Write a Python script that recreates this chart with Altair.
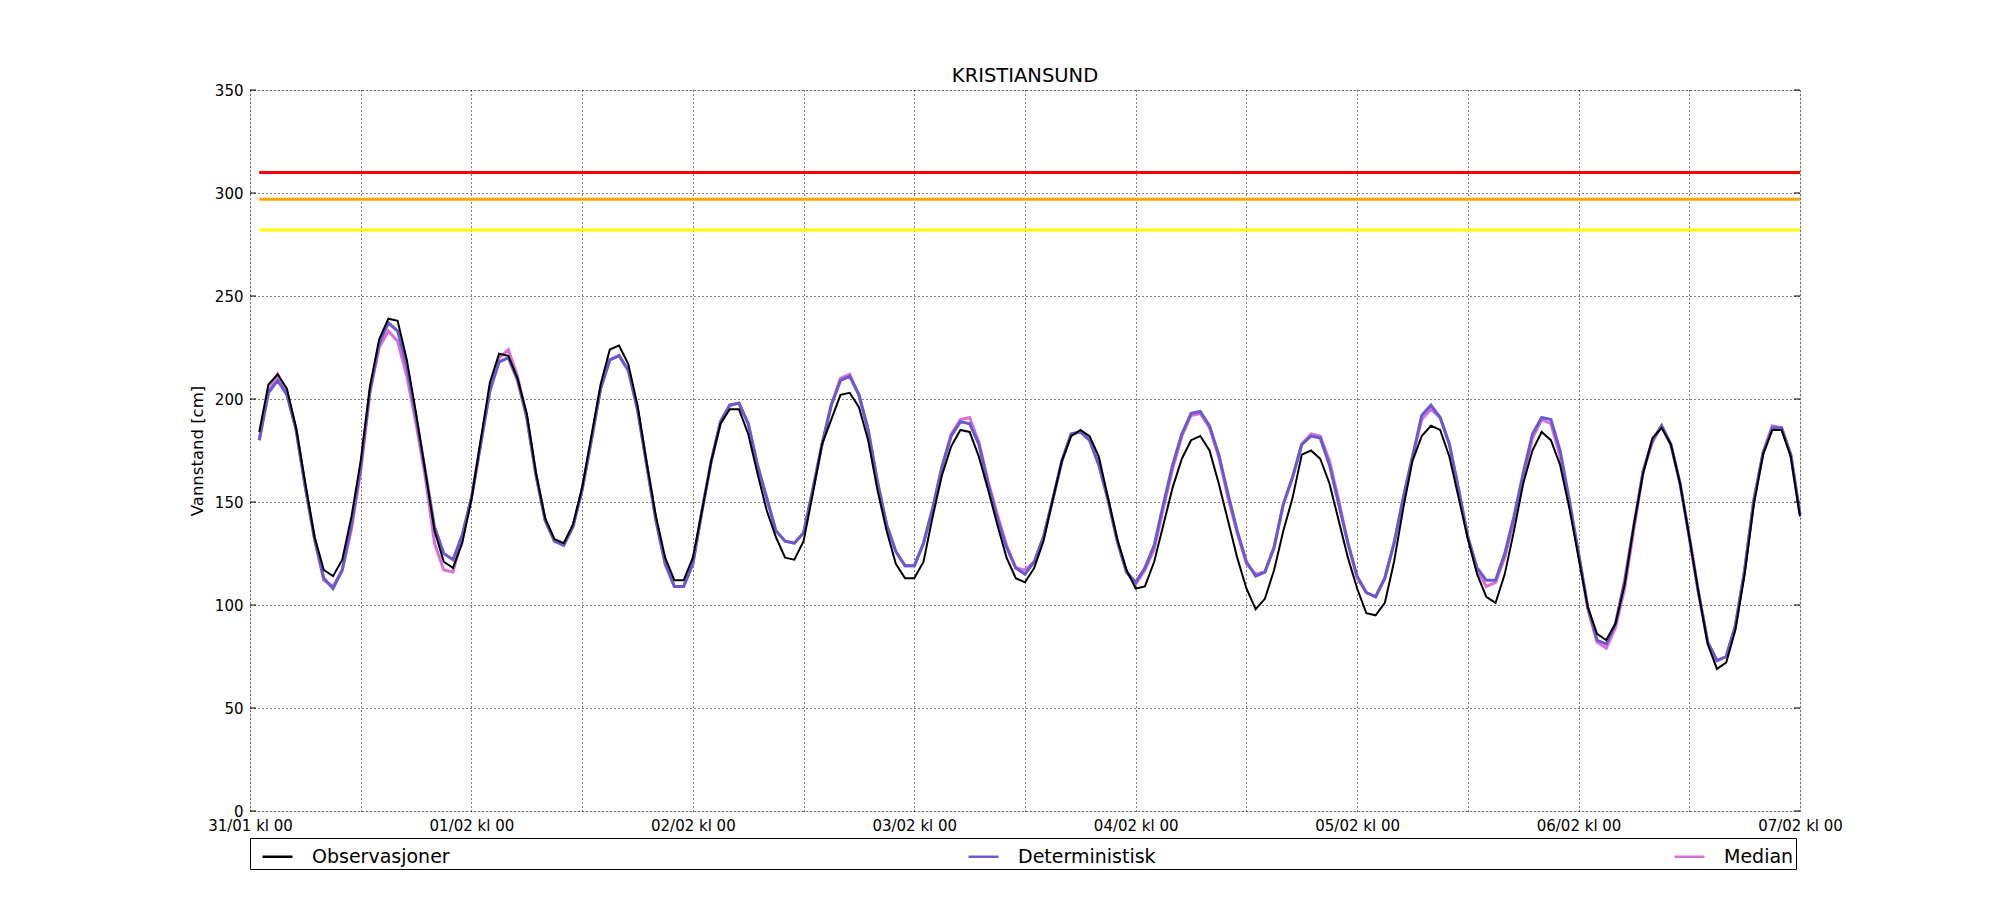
import altair as alt
import pandas as pd

TITLE = "KRISTIANSUND"
Y_TITLE = "Vannstand [cm]"
SERIES = ["Observasjoner", "Deterministisk", "Median"]
START = "2020-01-31 01:00"

# hourly values, 31/01 kl 01 .. 07/02 kl 00
obs = [184, 207, 212, 205, 186, 159, 133, 117, 114, 122,
       143, 170, 206, 229, 239, 238, 219, 193, 165, 136,
       121, 118, 130, 151, 180, 208, 222, 221, 210, 193,
       164, 142, 132, 130, 139, 157, 182, 207, 224, 226,
       217, 197, 169, 143, 123, 112, 112, 123, 146, 170,
       188, 195, 195, 183, 164, 146, 133, 123, 122, 131,
       154, 178, 190, 202, 203, 196, 180, 156, 136, 120,
       113, 113, 121, 143, 163, 177, 185, 184, 172, 156,
       139, 123, 113, 111, 118, 131, 151, 170, 182, 185,
       182, 172, 152, 132, 117, 108, 109, 121, 139, 157,
       171, 180, 182, 175, 159, 141, 123, 108, 98, 103,
       117, 136, 152, 173, 175, 171, 159, 141, 123, 108,
       96, 95, 101, 121, 147, 170, 182, 187, 185, 172,
       152, 132, 115, 104, 101, 115, 136, 159, 175, 184,
       180, 168, 147, 123, 99, 86, 83, 91, 110, 139,
       164, 181, 186, 178, 159, 133, 106, 81, 69, 72,
       88, 115, 149, 173, 185, 185, 172, 143]

det = [180, 203, 209, 202, 185, 157, 132, 113, 108, 117,
       139, 167, 204, 227, 237, 233, 216, 191, 165, 138,
       125, 122, 134, 152, 178, 204, 218, 220, 209, 191,
       163, 141, 131, 129, 138, 156, 180, 205, 219, 221,
       214, 195, 168, 141, 120, 109, 109, 120, 146, 170,
       189, 197, 198, 188, 168, 152, 136, 131, 130, 135,
       156, 178, 197, 209, 211, 202, 185, 160, 139, 126,
       119, 119, 130, 147, 167, 182, 189, 188, 178, 159,
       142, 128, 118, 115, 121, 133, 151, 170, 183, 184,
       180, 168, 151, 131, 116, 111, 118, 129, 149, 168,
       183, 193, 194, 187, 173, 154, 136, 121, 114, 116,
       128, 149, 162, 178, 182, 181, 168, 149, 130, 114,
       106, 104, 113, 130, 152, 172, 192, 197, 191, 178,
       156, 133, 118, 112, 112, 125, 143, 164, 183, 191,
       190, 175, 151, 125, 99, 83, 81, 91, 112, 139,
       165, 180, 187, 178, 159, 133, 106, 82, 73, 75,
       90, 117, 151, 174, 186, 186, 173, 144]

med = [180, 204, 212, 203, 185, 157, 132, 112, 109, 117,
       137, 165, 203, 225, 233, 228, 211, 188, 162, 130,
       117, 116, 133, 152, 178, 204, 220, 224, 211, 191,
       163, 141, 131, 129, 138, 156, 180, 205, 219, 221,
       214, 195, 168, 141, 120, 109, 109, 120, 146, 170,
       189, 197, 198, 188, 168, 152, 136, 131, 130, 135,
       156, 178, 197, 210, 212, 202, 185, 160, 139, 126,
       119, 119, 130, 147, 167, 183, 190, 191, 179, 160,
       144, 129, 118, 117, 121, 133, 151, 170, 183, 184,
       180, 168, 151, 131, 116, 110, 117, 127, 147, 166,
       182, 192, 193, 186, 172, 152, 135, 120, 115, 116,
       128, 149, 162, 178, 183, 182, 170, 151, 130, 113,
       106, 104, 113, 130, 152, 172, 190, 195, 191, 178,
       156, 133, 117, 109, 111, 123, 141, 161, 181, 190,
       188, 172, 149, 125, 98, 82, 79, 89, 108, 137,
       165, 179, 187, 178, 159, 133, 106, 82, 73, 75,
       90, 117, 151, 174, 187, 186, 173, 144]

THRESH_NAMES = ["rod", "oransje", "gul"]
THRESH_VALUES = [310, 297, 282]
Y_TICKS = [0, 50, 100, 150, 200, 250, 300, 350]
DAYS = [(1, 31), (2, 1), (2, 2), (2, 3), (2, 4), (2, 5), (2, 6), (2, 7)]
YEAR = 2020

times = pd.date_range(START, periods=len(obs), freq="h").strftime("%Y-%m-%dT%H:%M:%S")
tlist = list(times)

long = pd.DataFrame({
    "time": tlist * 3,
    "value": obs + det + med,
    "series": [SERIES[0]] * len(obs) + [SERIES[1]] * len(det) + [SERIES[2]] * len(med),
})
thr = pd.DataFrame({
    "name": THRESH_NAMES,
    "value": THRESH_VALUES,
    "time": [tlist[0]] * 3,
    "time_end": [tlist[-1]] * 3,
})
ticks_df = pd.DataFrame({"value": Y_TICKS})

xvals = []
for i, (m, d) in enumerate(DAYS):
    xvals.append(alt.DateTime(year=YEAR, month=m, date=d, hours=0))
    if i < len(DAYS) - 1:
        xvals.append(alt.DateTime(year=YEAR, month=m, date=d, hours=12))

FONT = "DejaVu Sans"

xscale = alt.Scale(domain=[alt.DateTime(year=YEAR, month=DAYS[0][0], date=DAYS[0][1], hours=0),
                           alt.DateTime(year=YEAR, month=DAYS[-1][0], date=DAYS[-1][1], hours=0)])
xaxis = alt.Axis(values=xvals,
                 labelExpr="hours(datum.value) == 0 ? timeFormat(datum.value, '%d/%m kl %H') : ''",
                 grid=True, gridDash=[1, 3], gridColor="black", gridWidth=1,
                 domain=False, ticks=False, labelPadding=7, labelFontSize=15,
                 labelColor="black", labelFont=FONT, labelOverlap=False,
                 labelFlush=False, labelBound=False, title=None)
yscale = alt.Scale(domain=[0, 350], nice=False, zero=True)
yaxis = alt.Axis(values=Y_TICKS, grid=True, gridDash=[1, 3], gridColor="black", gridWidth=1,
                 domain=False, ticks=False, labelPadding=7, labelFontSize=15,
                 labelColor="black", labelFont=FONT, format="d",
                 title=Y_TITLE, titleFontSize=16.5, titleFontWeight="normal",
                 titleColor="black", titleFont=FONT, titleX=-48, titleY=360.5,
                 titleBaseline="alphabetic")

X = alt.X("time:T", scale=xscale, axis=xaxis)
Y = alt.Y("value:Q", scale=yscale, axis=yaxis)

legend = alt.Legend(title=None, orient="none", legendX=0, legendY=748,
                    direction="horizontal", symbolType="stroke", symbolSize=900,
                    symbolStrokeWidth=2.5, symbolOffset=9, labelFontSize=19,
                    labelFont=FONT, labelColor="black", labelOffset=18,
                    columnPadding=508, padding=2, strokeColor="black", labelLimit=400)
color = alt.Color("series:N",
                  scale=alt.Scale(domain=SERIES, range=["#000000", "#6a5acd", "#da70d6"]),
                  legend=legend)

thr_layer = alt.Chart(thr).mark_rule(strokeWidth=3, strokeCap="butt").encode(
    x=X, x2="time_end:T", y=Y,
    stroke=alt.Stroke("name:N", scale=alt.Scale(domain=THRESH_NAMES,
                                                range=["#ff0000", "#ffa500", "#ffff00"]),
                      legend=None),
)

base = alt.Chart(long)
med_layer = base.transform_filter(alt.datum.series == SERIES[2]).mark_line(
    strokeWidth=3).encode(x=X, y=Y, color=color)
det_layer = base.transform_filter(alt.datum.series == SERIES[1]).mark_line(
    strokeWidth=3).encode(x=X, y=Y, color=color)
obs_layer = base.transform_filter(alt.datum.series == SERIES[0]).mark_line(
    strokeWidth=2).encode(x=X, y=Y, color=color)

tick_l = alt.Chart(ticks_df).mark_rule(color="black", strokeWidth=1).encode(
    y=Y, x=alt.value(0), x2=alt.value(6))
tick_r = alt.Chart(ticks_df).mark_rule(color="black", strokeWidth=1).encode(
    y=Y, x=alt.value(1544), x2=alt.value(1550))

chart = alt.layer(thr_layer, med_layer, det_layer, obs_layer, tick_l, tick_r).resolve_scale(
    stroke="independent"
).properties(
    width=1550, height=721,
    padding={"left": 242, "top": 82, "right": 192, "bottom": 81},
    autosize=alt.AutoSizeParams(type="none"),
    title=alt.TitleParams(TITLE, fontSize=19.5, fontWeight="normal", font=FONT,
                          color="black", offset=6.7, dy=25, baseline="alphabetic",
                          anchor="middle"),
).configure_view(stroke="black", strokeWidth=1).configure(font=FONT, background="white")

chart.save("out.html", embed_options={"renderer": "svg", "actions": False})
